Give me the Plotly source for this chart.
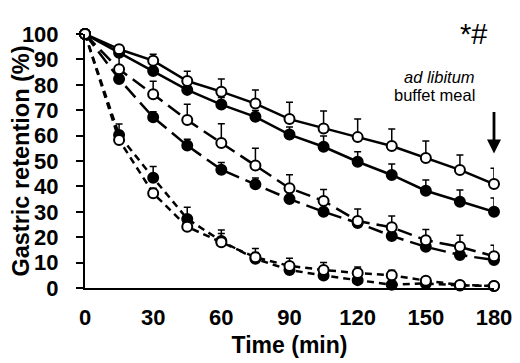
import plotly.graph_objects as go

time_min = [0, 15, 30, 45, 60, 75, 90, 105, 120, 135, 150, 165, 180]

open_solid = [100, 94, 89.5, 81.5, 77.3, 72.6, 66.5, 62.8, 59.4, 55.9, 51.2, 46.5, 40.9]
open_solid_err = [0, 1.5, 2.5, 3.8, 5, 5.4, 6.6, 6.9, 7.1, 6.7, 6.7, 5.9, 6.2]
filled_solid = [100, 92.6, 85.4, 78, 72.2, 67.4, 60.4, 55.6, 49.7, 44.5, 38.3, 34, 30]
filled_solid_err = [0, 2, 1.5, 2, 2.8, 2.5, 3, 4.2, 3.9, 4.3, 4.2, 4.6, 5.4]

open_long = [100, 86.1, 76.3, 66.1, 57.1, 48.2, 39.3, 34.3, 26.4, 23.9, 18.8, 16.2, 12.5]
open_long_err = [0, 6, 5.1, 6.2, 7.6, 6.8, 5.3, 4.5, 4.7, 4.4, 4.2, 4.6, 4.3]
filled_long = [100, 82.3, 67.2, 56.1, 46.6, 40.8, 35, 30, 25.6, 20.5, 16.2, 13, 11]
filled_long_err = [0, 1.5, 2.2, 2.5, 2.8, 2.5, 2.5, 2.5, 2.5, 2.5, 2.5, 2.5, 2.5]

open_short = [100, 58.3, 37.3, 24.1, 18, 12.1, 8.7, 7.1, 5.9, 5, 2.9, 1.2, 0.8]
open_short_err = [0, 2, 2, 2, 4.8, 3.5, 3, 2.9, 2.4, 2, 1, 0.5, 0.5]
filled_short = [100, 60.2, 43.4, 27.2, 18.5, 11.5, 7.1, 4.9, 3.1, 1.3, 1.8, 1, 0.8]
filled_short_err = [0, 4.4, 4.4, 4.6, 3, 2.5, 2, 2, 2, 1.5, 1, 0.5, 0.5]

x_ticks = [0, 30, 60, 90, 120, 150, 180]
y_ticks = [0, 10, 20, 30, 40, 50, 60, 70, 80, 90, 100]

series = [
    (filled_solid, filled_solid_err, "solid", True),
    (filled_long, filled_long_err, "15px,7px", True),
    (filled_short, filled_short_err, "7px,5px", True),
    (open_solid, open_solid_err, "solid", False),
    (open_long, open_long_err, "15px,7px", False),
    (open_short, open_short_err, "7px,5px", False),
]

OFF = 8  # page body margin
W, H = 520 - OFF, 363 - OFF
L, R, T, B = 85 - OFF, 26, 34 - OFF, 75


def px_x(px):
    return (px - OFF - L) / (W - L - R)


def px_y(py):
    return (H - (py - OFF) - B) / (H - T - B)


fig = go.Figure()
for vals, err, dash, filled in series:
    fig.add_trace(go.Scatter(
        x=time_min, y=vals, mode="lines+markers",
        line=dict(color="black", width=2.5, dash=dash),
        marker=dict(symbol="circle", size=10,
                    color="black" if filled else "white",
                    line=dict(color="black", width=2)),
        error_y=dict(type="data", array=err, arrayminus=[0] * len(err),
                     symmetric=False, color="black", thickness=1.5, width=3.5),
        cliponaxis=False, showlegend=False,
    ))

fig.add_annotation(x=180, y=53, xref="x", yref="y", ax=0, ay=-43,
                   showarrow=True, arrowhead=2, arrowsize=1, arrowwidth=2.8,
                   arrowcolor="black", text="")
fig.add_annotation(x=px_x(477), y=px_y(66), xref="paper", yref="paper", text="<i>ad libitum</i>",
                   showarrow=False, font=dict(size=16.5, color="black"))
fig.add_annotation(x=px_x(477), y=px_y(84), xref="paper", yref="paper", text="buffet meal",
                   showarrow=False, font=dict(size=16.5, color="black"))
fig.add_annotation(x=px_x(489), y=px_y(16), xref="paper", yref="paper", text="*#",
                   showarrow=False, font=dict(size=29, color="black"))

fig.update_layout(
    width=W, height=H,
    margin=dict(l=L, r=R, t=T, b=B, pad=0, autoexpand=False),
    paper_bgcolor="white", plot_bgcolor="white",
    font=dict(family="Liberation Sans, Arial, sans-serif", color="black"),
    xaxis=dict(range=[0, 180], tickvals=x_ticks, ticks="", showgrid=False, zeroline=False,
               showline=True, linecolor="black", linewidth=2, automargin=False,
               tickfont=dict(size=22, family="Liberation Sans", weight="bold"),
               ticklabelstandoff=9,
               title=dict(text="<b>Time (min)</b>", font=dict(size=23), standoff=7)),
    yaxis=dict(range=[0, 100], tickvals=y_ticks, ticks="outside", ticklen=7, tickwidth=1.5,
               tickcolor="black", showgrid=False, zeroline=False, automargin=False,
               showline=True, linecolor="black", linewidth=2,
               tickfont=dict(size=22, family="Liberation Sans", weight="bold"),
               ticklabelstandoff=13,
               title=dict(text="<b>Gastric retention (%)</b>", font=dict(size=23.5), standoff=10)),
)

fig.write_html("out.html")
